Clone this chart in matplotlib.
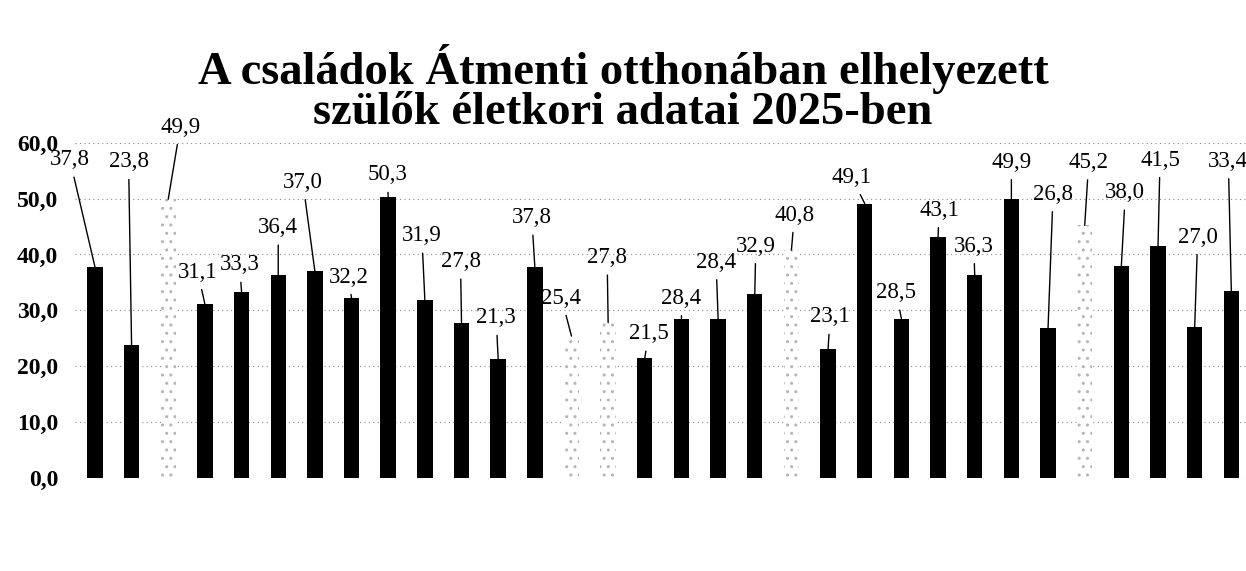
import matplotlib
matplotlib.use('Agg')
import matplotlib.pyplot as plt
import numpy as np

plt.rcParams.update({
    'font.family': 'Liberation Serif',
    'hatch.linewidth': 1.0,
})

# adatok
values = [37.8, 23.8, 49.9, 31.1, 33.3, 36.4, 37.0, 32.2, 50.3, 31.9, 27.8, 21.3,
          37.8, 25.4, 27.8, 21.5, 28.4, 28.4, 32.9, 40.8, 23.1, 49.1, 28.5, 43.1,
          36.3, 49.9, 26.8, 45.2, 38.0, 41.5, 27.0, 33.4]
light_bars = [2, 13, 14, 19, 27]   # halvány (pöttyözött) oszlopok
y_ticks = [0, 10, 20, 30, 40, 50, 60]
title_lines = ['A családok Átmenti otthonában elhelyezett',
               'szülők életkori adatai 2025-ben']

# címkék eltolása pixelben (dx, dy) az oszlop tetejéhez képest
label_offsets = [(-25, 107), (-3, 183), (12, 72), (-7, 32), (-2, 27), (0, 47),
                 (-12, 89), (-3, 21), (-1, 22), (-3, 64), (-1, 61), (-2, 41),
                 (-3, 49), (-10, 38), (-1, 65), (4, 24), (0, 21), (-2, 57),
                 (1, 48), (3, 35), (2, 32), (-13, 26), (-5, 26), (1, 27),
                 (-1, 29), (0, 37), (5, 134), (4, 63), (4, 73), (2, 86),
                 (3, 90), (-3, 130)]

fig = plt.figure(figsize=(12.46, 5.71), dpi=100)
ax = fig.add_axes([0.060, 0.163, 0.94, 0.587])

x = np.arange(len(values))
for i, v in enumerate(values):
    if i in light_bars:
        ax.bar(x[i], v, width=0.42, facecolor='white', edgecolor='#b5b5b5',
               hatch='..', linewidth=0, zorder=2)
    else:
        ax.bar(x[i], v, width=0.42, color='black', zorder=2)

for i, v in enumerate(values):
    dx, dy = label_offsets[i]
    ax.annotate(f'{v:.1f}'.replace('.', ','), xy=(x[i], v),
                xytext=(dx, dy), textcoords='offset pixels',
                ha='center', va='center', fontsize=16.5,
                arrowprops=dict(arrowstyle='-', color='black', lw=1.0,
                                shrinkA=3, shrinkB=0),
                zorder=3)

ax.set_xlim(-0.55, 31.4)
ax.set_ylim(0, 60)
ax.set_yticks(y_ticks)
ax.set_yticklabels([f'{t:.1f}'.replace('.', ',') for t in y_ticks],
                   fontsize=17, fontweight='bold')
ax.set_xticks([])
ax.tick_params(axis='y', length=0, pad=12)
for s in ax.spines.values():
    s.set_visible(False)
ax.grid(True, axis='y', linestyle=(0, (1, 3)), color='#8a8a8a', linewidth=0.8, zorder=0)

fig.text(0.5, 0.880, title_lines[0], ha='center', va='center', fontsize=33.5,
         fontweight='bold')
fig.text(0.5, 0.802, title_lines[1], ha='center', va='center', fontsize=33.5,
         fontweight='bold')

fig.savefig('out.png', dpi=100)
